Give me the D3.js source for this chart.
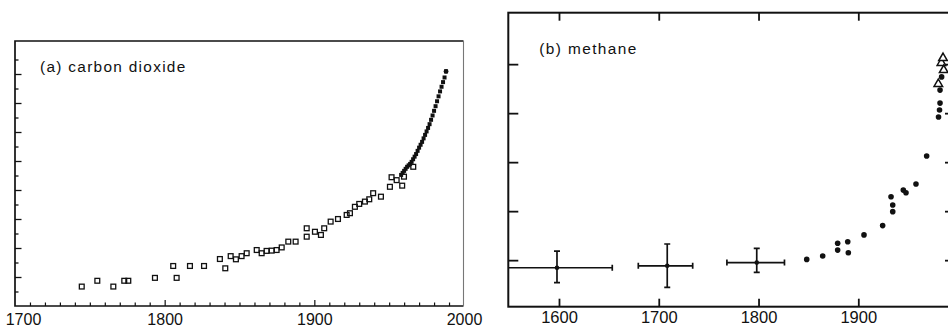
<!DOCTYPE html>
<html>
<head>
<meta charset="utf-8">
<script src="https://cdn.jsdelivr.net/npm/d3@7"></script>
<style>
  html, body { margin: 0; padding: 0; background: #fff; }
  svg { display: block; }
  text { font-family: "Liberation Sans", Arial, Helvetica, sans-serif; fill: #111; }
</style>
</head>
<body>
<svg id="chart" width="948" height="327"></svg>
<script>
// ---- (a) carbon dioxide, ppmv ----
// Ice-core samples (open squares)
const co2IceYears = [1744.6, 1755.0, 1765.7, 1773.0, 1775.7, 1793.5, 1805.7, 1808.0, 1816.9, 1826.3,
  1836.9, 1840.5, 1844.1, 1847.6, 1851.4, 1854.8, 1861.5, 1864.8, 1868.1, 1871.5,
  1874.8, 1878.2, 1882.6, 1887.5, 1894.9, 1894.9, 1900.4, 1904.4, 1906.6, 1910.9,
  1915.8, 1921.6, 1923.8, 1927.1, 1930.0, 1933.8, 1936.7, 1939.3, 1944.5, 1950.5,
  1951.6, 1955.0, 1958.7, 1959.9, 1966.1];
const co2IceValues = [276.7, 278.7, 276.7, 278.7, 278.7, 279.7, 283.8, 279.7, 283.8, 283.8,
  286.2, 283.0, 287.2, 286.1, 287.2, 288.2, 289.3, 288.2, 289.0, 289.1,
  289.3, 290.2, 292.2, 292.2, 293.9, 296.8, 295.6, 294.5, 296.8, 299.1,
  300.0, 301.4, 302.0, 304.2, 305.2, 306.0, 306.8, 308.9, 307.7, 311.1,
  314.4, 313.4, 311.5, 314.6, 318.0];
// Direct atmospheric record (small filled marks)
const co2AirYears = [1958, 1959, 1960, 1961, 1962, 1963, 1964, 1965, 1966, 1967,
  1968, 1969, 1970, 1971, 1972, 1973, 1974, 1975, 1976, 1977,
  1978, 1979, 1980, 1981, 1982, 1983, 1984, 1985, 1986, 1987, 1988];
const co2AirValues = [315.2, 315.9, 316.6, 317.3, 318.0, 318.5, 319.0, 319.7, 320.6, 321.5,
  322.4, 323.5, 324.6, 325.6, 326.6, 327.8, 329.0, 330.2, 331.4, 332.7,
  334.2, 335.7, 337.3, 338.9, 340.6, 342.3, 344.0, 345.6, 347.2, 348.8, 350.9];
const co2TickLabels = [1700, 1800, 1900, 2000];

// ---- (b) methane, ppmv ----
// Ice-core means with age range and concentration range
const ch4BarYears = [1598.0, 1708.5, 1798.2];
const ch4BarValues = [0.769, 0.777, 0.790];
const ch4BarYearLow = [1543.0, 1679.5, 1768.3];
const ch4BarYearHigh = [1653.4, 1734.0, 1826.0];
const ch4BarValueLow = [0.708, 0.689, 0.750];
const ch4BarValueHigh = [0.837, 0.866, 0.848];
// Individual samples (filled dots)
const ch4DotYears = [1848.3, 1864.3, 1879.3, 1879.3, 1889.4, 1890.0, 1905.7, 1924.4, 1932.8, 1934.5,
  1934.5, 1945.1, 1947.8, 1957.8, 1968.5, 1980.4, 1981.4, 1981.9, 1981.9, 1983.5];
const ch4DotValues = [0.803, 0.817, 0.869, 0.841, 0.875, 0.830, 0.903, 0.941, 1.059, 1.025,
  0.998, 1.086, 1.075, 1.111, 1.225, 1.384, 1.413, 1.441, 1.494, 1.548];
// Recent atmospheric measurements (open triangles)
const ch4TriYears = [1980.2, 1983.3, 1985.6, 1984.9];
const ch4TriValues = [1.519, 1.605, 1.576, 1.625];
const ch4TickLabels = [1600, 1700, 1800, 1900];

const svg = d3.select("#chart");
const ink = "#111";

// ================= panel (a) =================
const A = { left: 15, right: 463.5, top: 41, bottom: 306 };
const xA = d3.scaleLinear().domain([1700, 2000]).range([15, 464]);
const yA = d3.scaleLinear().domain([270, 361.38]).range([A.bottom, A.top]);

const gA = svg.append("g");

// frame: left/top/bottom solid, right edge lighter
gA.append("path")
  .attr("d", `M${A.right},${A.top}H${A.left}V${A.bottom}H${A.right}`)
  .attr("fill", "none").attr("stroke", ink).attr("stroke-width", 1.7);
gA.append("line")
  .attr("x1", A.right).attr("x2", A.right).attr("y1", A.top).attr("y2", A.bottom)
  .attr("stroke", "#777").attr("stroke-width", 1.1);

// inward y ticks, long every 10 ppmv
const yAxisA = gA.append("g")
  .attr("transform", `translate(${A.left},0)`)
  .call(d3.axisRight(yA).tickValues(d3.range(275, 360, 5)).tickSize(6).tickFormat(""));
yAxisA.select(".domain").remove();
yAxisA.selectAll(".tick line")
  .attr("x2", d => (d % 10 === 0 ? 6.5 : 3.5))
  .attr("stroke", ink).attr("stroke-width", 1.3);

// inward x ticks every decade
const xTicksA = gA.append("g")
  .attr("transform", `translate(0,${A.bottom})`)
  .call(d3.axisTop(xA).tickValues(d3.range(1710, 2000, 10)).tickSize(3.5).tickFormat(""));
xTicksA.select(".domain").remove();
xTicksA.selectAll(".tick line")
  .attr("y2", d => (d % 100 === 0 ? -6 : -3.5))
  .attr("stroke", ink).attr("stroke-width", 1.2);

// year labels
const xLabA = gA.append("g")
  .attr("transform", `translate(0,${A.bottom})`)
  .call(d3.axisBottom(xA).tickValues(co2TickLabels).tickSize(0).tickPadding(8).tickFormat(d3.format("d")));
xLabA.select(".domain").remove();
xLabA.selectAll("text")
  .attr("font-size", 16).attr("fill", ink)
  .attr("font-family", "Liberation Sans, Arial, sans-serif")
  .attr("dx", (d, i) => (i === 0 ? 8 : 0));

gA.append("text")
  .attr("x", 40).attr("y", 72)
  .attr("font-size", 15.4).attr("letter-spacing", 1.3)
  .text("(a) carbon dioxide");

// ice-core squares
const sq = 4.8;
gA.append("g").selectAll("rect")
  .data(co2IceYears.map((y, i) => [y, co2IceValues[i]]))
  .join("rect")
  .attr("x", d => xA(d[0]) - sq / 2).attr("y", d => yA(d[1]) - sq / 2)
  .attr("width", sq).attr("height", sq)
  .attr("fill", "none").attr("stroke", ink).attr("stroke-width", 1.3);

// atmospheric record marks
const air = co2AirYears.map((y, i) => [y, co2AirValues[i]]);
gA.append("g").selectAll("rect")
  .data(air)
  .join("rect")
  .attr("x", d => xA(d[0]) - 2).attr("y", d => yA(d[1]) - 2)
  .attr("width", 4).attr("height", 4)
  .attr("fill", ink);
gA.append("circle")
  .attr("cx", xA(air[air.length - 1][0])).attr("cy", yA(air[air.length - 1][1]))
  .attr("r", 2.4).attr("fill", ink);

// ================= panel (b) =================
const B = { left: 508.3, right: 952, top: 12.7, bottom: 306.7 };
const xB = d3.scaleLinear().domain([1549.2, 1991.9]).range([B.left, 950]);
const yB = d3.scaleLinear().domain([0.61, 1.81]).range([B.bottom, B.top]);

const gB = svg.append("g");
svg.append("defs").append("clipPath").attr("id", "clipB")
  .append("rect").attr("x", B.left).attr("y", B.top)
  .attr("width", B.right - B.left).attr("height", B.bottom - B.top);

gB.append("rect")
  .attr("x", B.left).attr("y", B.top)
  .attr("width", B.right - B.left).attr("height", B.bottom - B.top)
  .attr("fill", "none").attr("stroke", ink).attr("stroke-width", 2);

const yTicksB = [0.8, 1.0, 1.2, 1.4, 1.6];
const lAx = gB.append("g").attr("transform", `translate(${B.left},0)`)
  .call(d3.axisRight(yB).tickValues(yTicksB).tickSize(10).tickFormat(""));
const rAx = gB.append("g").attr("transform", `translate(${B.right},0)`)
  .call(d3.axisLeft(yB).tickValues(yTicksB).tickSize(7).tickFormat(""));
const tAx = gB.append("g").attr("transform", `translate(0,${B.top})`)
  .call(d3.axisBottom(xB).tickValues(ch4TickLabels).tickSize(8).tickFormat(""));
const bAx = gB.append("g").attr("transform", `translate(0,${B.bottom})`)
  .call(d3.axisTop(xB).tickValues(ch4TickLabels).tickSize(8).tickFormat(""));
[lAx, rAx, tAx, bAx].forEach(ax => {
  ax.select(".domain").remove();
  ax.selectAll(".tick line").attr("stroke", ink).attr("stroke-width", 1.8);
});

const xLabB = gB.append("g").attr("transform", `translate(0,${B.bottom})`)
  .call(d3.axisBottom(xB).tickValues(ch4TickLabels).tickSize(0).tickPadding(4.5).tickFormat(d3.format("d")));
xLabB.select(".domain").remove();
xLabB.selectAll("text")
  .attr("font-size", 16.5).attr("fill", ink)
  .attr("font-family", "Liberation Sans, Arial, sans-serif");

gB.append("text")
  .attr("x", 539.3).attr("y", 53.5)
  .attr("font-size", 15.4).attr("letter-spacing", 1.4)
  .text("(b) methane");

const dataB = gB.append("g").attr("clip-path", "url(#clipB)");

// error crosses
const bars = ch4BarYears.map((y, i) => ({
  x: y, v: ch4BarValues[i],
  x0: ch4BarYearLow[i], x1: ch4BarYearHigh[i],
  v0: ch4BarValueLow[i], v1: ch4BarValueHigh[i]
}));
const cross = dataB.append("g").attr("stroke", ink).attr("stroke-width", 1.7).attr("fill", "none");
cross.selectAll("path.h").data(bars).join("path").attr("class", "h")
  .attr("d", d => `M${xB(d.x0)},${yB(d.v)}H${xB(d.x1)}` +
    `M${xB(d.x0)},${yB(d.v) - 3}v6M${xB(d.x1)},${yB(d.v) - 3}v6`);
cross.selectAll("path.v").data(bars).join("path").attr("class", "v")
  .attr("d", d => `M${xB(d.x)},${yB(d.v1)}V${yB(d.v0)}` +
    `M${xB(d.x) - 3},${yB(d.v1)}h6M${xB(d.x) - 3},${yB(d.v0)}h6`);
dataB.append("g").selectAll("circle").data(bars).join("circle")
  .attr("cx", d => xB(d.x)).attr("cy", d => yB(d.v)).attr("r", 2.3).attr("fill", ink);

// sample dots
dataB.append("g").selectAll("circle")
  .data(ch4DotYears.map((y, i) => [y, ch4DotValues[i]]))
  .join("circle")
  .attr("cx", d => xB(d[0])).attr("cy", d => yB(d[1]))
  .attr("r", 2.8).attr("fill", ink);

// open triangles
const tri = d3.symbol().type(d3.symbolTriangle).size(32);
dataB.append("g").selectAll("path")
  .data(ch4TriYears.map((y, i) => [y, ch4TriValues[i]]))
  .join("path")
  .attr("transform", d => `translate(${xB(d[0])},${yB(d[1])})`)
  .attr("d", tri)
  .attr("fill", "#fff").attr("stroke", ink).attr("stroke-width", 1.5);
</script>
</body>
</html>
